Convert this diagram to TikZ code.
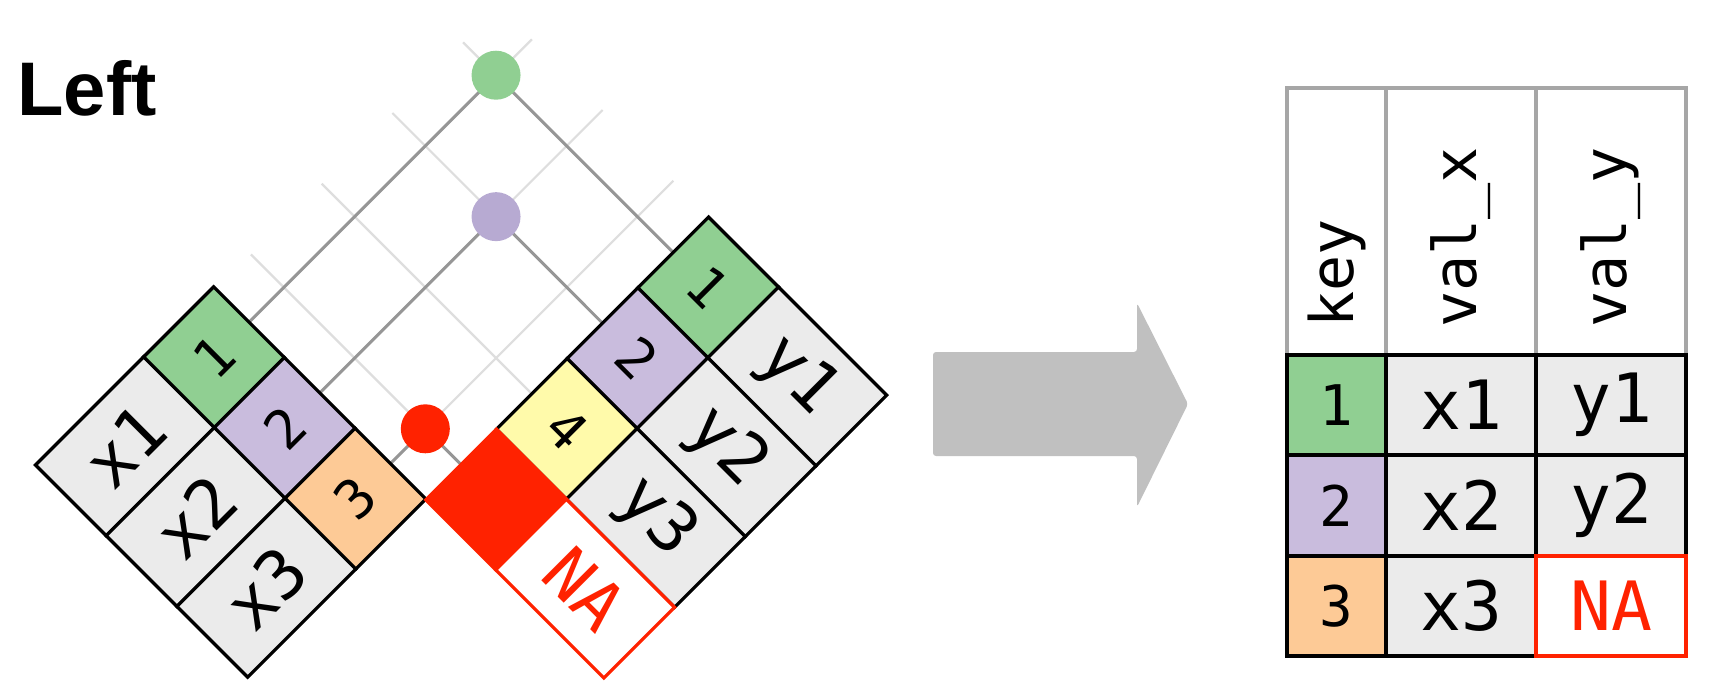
\documentclass[tikz,border=0pt]{standalone}
\usepackage{fontspec}
\setsansfont{Liberation Sans}
\setmonofont{DejaVu Sans Mono}
\usepackage{tikz}
\usetikzlibrary{positioning, backgrounds}
\definecolor{keyGreen}{RGB}{144,207,146}
\definecolor{keyPurple}{RGB}{201,188,221}
\definecolor{dotPurple}{RGB}{183,170,210}
\definecolor{keyOrange}{RGB}{253,202,150}
\definecolor{keyYellow}{RGB}{255,250,170}
\definecolor{cellGray}{RGB}{235,235,235}
\definecolor{naRed}{RGB}{255,34,0}
\definecolor{arrowGray}{RGB}{192,192,192}
\definecolor{headGray}{RGB}{166,166,166}
\definecolor{linkGray}{RGB}{150,150,150}
\definecolor{faintGray}{RGB}{222,222,222}
\newcommand{\valfont}{\ttfamily\fontsize{34}{40}\selectfont}
\newcommand{\keyfont}{\ttfamily\fontsize{27}{31}\selectfont}

\begin{document}
\begin{tikzpicture}[x=0.5pt, y=0.5pt,
    cell/.style={rectangle, draw=black, line width=1.6pt, inner sep=0pt, outer sep=0pt, minimum height=50pt},
    kcell/.style={cell, minimum width=49.5pt, font=\keyfont},
    vcell/.style={cell, minimum width=76.5pt, fill=cellGray, font=\valfont},
    tcell/.style={rectangle, draw=black, line width=1.7pt, inner sep=0pt, outer sep=0pt, minimum height=50pt},
    tkey/.style={tcell, minimum width=49.5pt, font=\ttfamily\fontsize{28}{32}\selectfont},
    tval/.style={tcell, minimum width=75pt, fill=cellGray, font=\valfont},
    hcell/.style={rectangle, draw=headGray, line width=1.6pt, inner sep=0pt, outer sep=0pt, minimum height=133.5pt},
    htext/.style={rotate=90, anchor=west, inner sep=0pt, font=\ttfamily\fontsize{30}{34}\selectfont},
    dot/.style={circle, inner sep=0pt, minimum size=24.5pt},
    link/.style={linkGray, line width=1.5pt},
    faint/.style={faintGray, line width=1.1pt}
  ]
  \useasboundingbox (0,0) rectangle (1722,-690);

  \node[font=\sffamily\bfseries\fontsize{38}{44}\selectfont, anchor=base west, inner sep=0pt] (title) at (17,-115) {Left};

  % table x, turned
  \begin{scope}[shift={(35.5,-465)}, rotate=45, transform shape]
    \node[vcell] (lx1) at (76.5,-50) {x1};
    \node[vcell] (lx2) at (76.5,-150) {x2};
    \node[vcell] (lx3) at (76.5,-250) {x3};
    \node[kcell, fill=keyGreen] (lk1) at (202.5,-50) {1};
    \node[kcell, fill=keyPurple] (lk2) at (202.5,-150) {2};
    \node[kcell, fill=keyOrange] (lk3) at (202.5,-250) {3};
    \coordinate (le1) at (652,-50);
    \coordinate (le2) at (652,-150);
    \coordinate (le3) at (652,-250);
  \end{scope}

  % table y, turned
  \begin{scope}[shift={(708.5,-217)}, rotate=-45, transform shape]
    \node[kcell, fill=keyGreen] (rk1) at (49.5,-50) {1};
    \node[kcell, fill=keyPurple] (rk2) at (49.5,-150) {2};
    \node[kcell, fill=keyYellow] (rk3) at (49.5,-250) {4};
    \node[vcell] (ry1) at (175.5,-50) {y1};
    \node[vcell] (ry2) at (175.5,-150) {y2};
    \node[vcell] (ry3) at (175.5,-250) {y3};
    \node[kcell, fill=naRed, draw=naRed] (rk4) at (49.5,-350) {};
    \node[vcell, fill=white, draw=naRed, text=naRed] (ry4) at (175.5,-350) {NA};
    \coordinate (re1) at (-297,-50);
    \coordinate (re2) at (-297,-150);
    \coordinate (re3) at (-297,-250);
    \coordinate (re4) at (-297,-350);
  \end{scope}

  % matches
  \node[dot, fill=keyGreen] (m1) at (intersection of lk1.east--le1 and rk1.west--re1) {};
  \node[dot, fill=dotPurple] (m2) at (intersection of lk2.east--le2 and rk2.west--re2) {};
  \node[dot, fill=naRed] (m3) at (intersection of lk3.east--le3 and rk4.west--re4) {};

  \begin{scope}[on background layer]
    \draw[faint] (lk1.east) -- (le1);
    \draw[faint] (lk2.east) -- (le2);
    \draw[faint] (lk3.east) -- (le3);
    \draw[faint] (rk1.west) -- (re1);
    \draw[faint] (rk2.west) -- (re2);
    \draw[faint] (rk3.west) -- (re3);
    \draw[faint] (rk4.west) -- (re4);
    \draw[link] (lk1.east) -- (m1.center);
    \draw[link] (rk1.west) -- (m1.center);
    \draw[link] (lk2.east) -- (m2.center);
    \draw[link] (rk2.west) -- (m2.center);
    \draw[link] (lk3.east) -- (m3.center);
    \draw[link] (rk4.west) -- (m3.center);
  \end{scope}

  % big arrow
  \fill[arrowGray, rounded corners=1.5pt] (933,-352) -- (1137,-352) -- (1137,-303) -- (1188,-404)
    -- (1137,-507) -- (1137,-456) -- (933,-456) -- cycle;

  % result
  \node[hcell] (hkey) at (1336.5,-221.5) [minimum width=49.5pt] {};
  \node[hcell] (hvx) at (1461,-221.5) [minimum width=75pt] {};
  \node[hcell] (hvy) at (1611,-221.5) [minimum width=75pt] {};
  \node[htext] (tkey) at ([yshift=13.5pt]hkey.south) {key};
  \node[htext] (tvx) at ([yshift=13.5pt]hvx.south) {val\_x};
  \node[htext] (tvy) at ([yshift=13.5pt]hvy.south) {val\_y};

  \node[tkey, fill=keyGreen] (t1k) at (1336.5,-405) {1};
  \node[tkey, fill=keyPurple] (t2k) at (1336.5,-505.5) {2};
  \node[tkey, fill=keyOrange] (t3k) at (1336.5,-606) {3};
  \node[tval] (t1x) at (1461,-405) {x1};
  \node[tval] (t2x) at (1461,-505.5) {x2};
  \node[tval] (t3x) at (1461,-606) {x3};
  \node[tval] (t1y) at (1611,-405) {y1};
  \node[tval] (t2y) at (1611,-505.5) {y2};
  \node[tval, fill=white, draw=naRed, text=naRed] (t3y) at (1611,-606) {NA};
\end{tikzpicture}
\end{document}
